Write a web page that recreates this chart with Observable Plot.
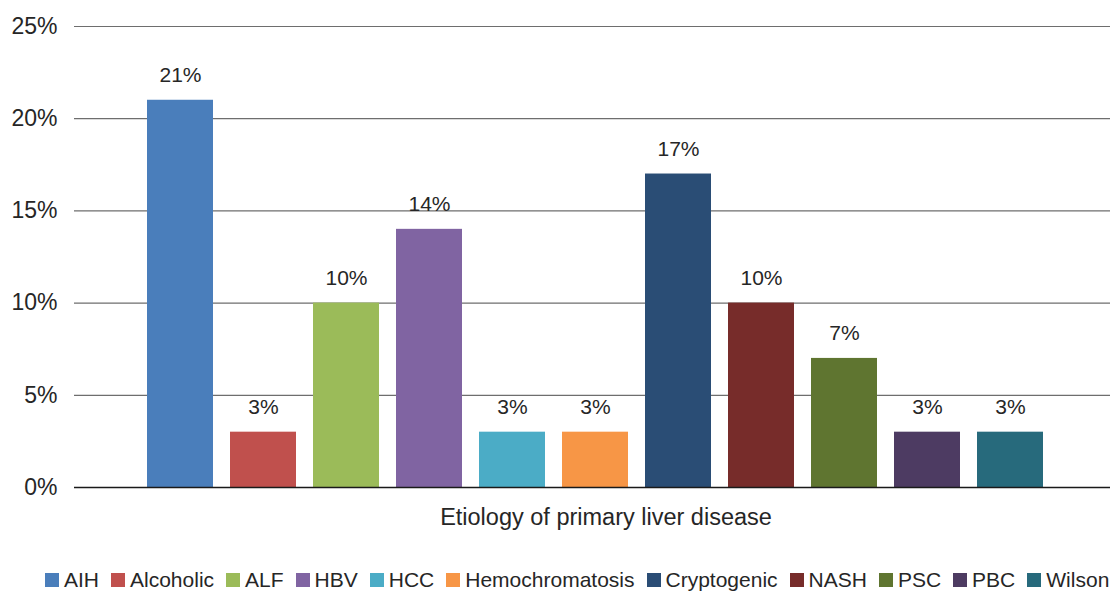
<!DOCTYPE html>
<html>
<head>
<meta charset="utf-8">
<script src="https://cdn.jsdelivr.net/npm/d3@7"></script>
<script src="https://cdn.jsdelivr.net/npm/@observablehq/plot@0.6"></script>
<style>
  html, body { margin: 0; padding: 0; background: #fff; width: 1110px; height: 592px; overflow: hidden; }
  body { font-family: "Liberation Sans", Arial, sans-serif; color: #262626; }
  #chart svg { display: block; }
  #xtitle { height: 35px; line-height: 35px; font-size: 23.5px; text-align: center; padding-left: 96px; width: 1020px; white-space: nowrap; }
  #legend { margin-top: 33px; height: 24px; line-height: 24px; font-size: 21px; display: flex; flex-wrap: nowrap; white-space: nowrap; padding-left: 45px; gap: 12px; }
  #legend .item { display: flex; align-items: center; }
  #legend .sw { width: 14px; height: 14px; margin-right: 5px; display: inline-block; }
</style>
</head>
<body>
<div id="chart"></div>
<div id="xtitle">Etiology of primary liver disease</div>
<div id="legend"></div>
<script>
const categories = ["AIH", "Alcoholic", "ALF", "HBV", "HCC", "Hemochromatosis", "Cryptogenic", "NASH", "PSC", "PBC", "Wilson"];
const values = [21, 3, 10, 14, 3, 3, 17, 10, 7, 3, 3];
const colors = ["#4A7EBB", "#C0504D", "#9BBB59", "#8064A2", "#4BACC6", "#F79646", "#2A4D75", "#772C2A", "#5F7530", "#4D3B62", "#276A7C"];
const yTicks = [0, 5, 10, 15, 20, 25];
const xTitle = "Etiology of primary liver disease";

const data = categories.map((c, i) => ({category: c, value: values[i], color: colors[i]}));

const chart = Plot.plot({
  width: 1110,
  height: 500,
  marginLeft: 74,
  marginRight: 0,
  marginTop: 26,
  marginBottom: 13,
  style: {fontFamily: '"Liberation Sans", Arial, sans-serif', color: "#262626", background: "#fff"},
  x: {domain: categories, range: [146, 1045], paddingInner: 0.2, paddingOuter: 0, axis: null},
  y: {domain: [0, 25], ticks: yTicks, label: null},
  marks: [
    Plot.ruleY(yTicks.filter(d => d > 0), {stroke: "#6e6e6e", strokeWidth: 1.2}),
    Plot.barY(data, {x: "category", y: "value", fill: "color"}),
    Plot.ruleY([0], {stroke: "#1a1a1a", strokeWidth: 1.4}),
    Plot.axisY({ticks: yTicks, tickSize: 0, tickPadding: 17, tickFormat: d => d + "%", fontSize: 23, label: null}),
    Plot.text(data, {x: "category", y: "value", text: d => d.value + "%", dy: -25, fontSize: 21, fill: "#262626"})
  ]
});
document.getElementById("chart").appendChild(chart);
document.getElementById("xtitle").textContent = xTitle;

const legend = document.getElementById("legend");
categories.forEach((c, i) => {
  const item = document.createElement("span");
  item.className = "item";
  const sw = document.createElement("span");
  sw.className = "sw";
  sw.style.background = colors[i];
  const t = document.createElement("span");
  t.textContent = c;
  item.appendChild(sw);
  item.appendChild(t);
  legend.appendChild(item);
});
</script>
</body>
</html>
